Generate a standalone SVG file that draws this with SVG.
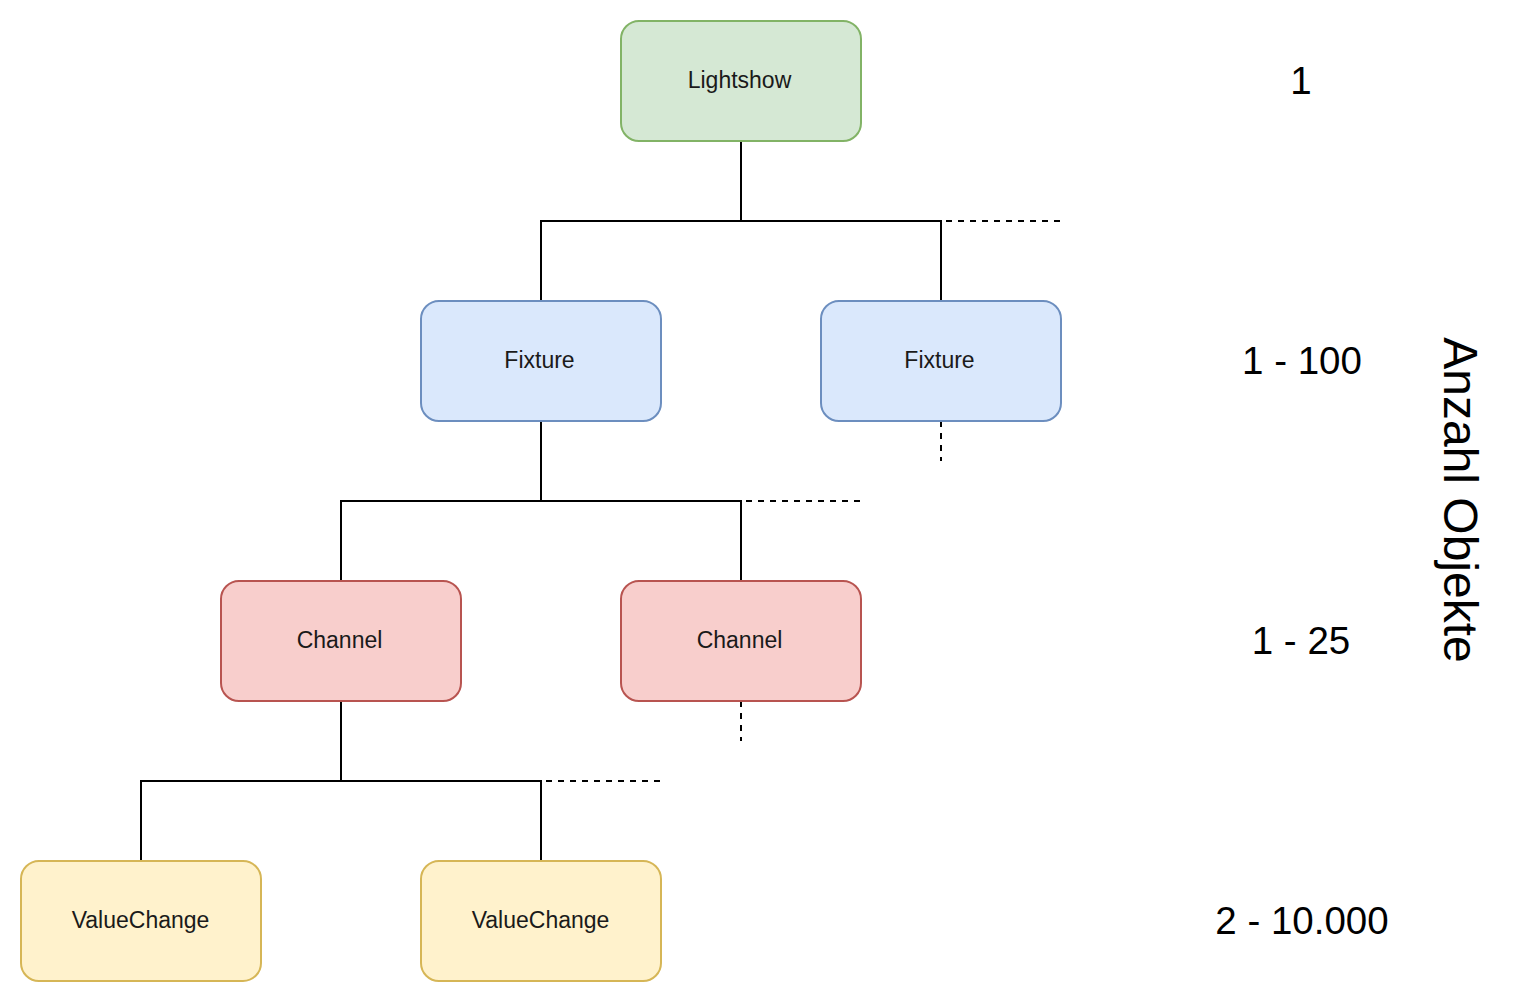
<svg xmlns="http://www.w3.org/2000/svg" width="1524" height="1002" viewBox="0 0 1524 1002">
<style>
.box{stroke-width:2}
.g{fill:#d5e8d4;stroke:#82b366}
.b{fill:#dae8fc;stroke:#6c8ebf}
.r{fill:#f8cecc;stroke:#b85450}
.y{fill:#fff2cc;stroke:#d6b656}
.lbl{font-family:"Liberation Sans",Arial,sans-serif;font-size:23px;fill:#1a1a1a;text-anchor:middle}
.num{font-family:"Liberation Sans",Arial,sans-serif;font-size:38.5px;fill:#000;text-anchor:middle}
.vert{font-family:"Liberation Sans",Arial,sans-serif;font-size:48px;fill:#000;text-anchor:middle}
.ln{fill:none;stroke:#000;stroke-width:2}
.dash{fill:none;stroke:#000;stroke-width:2;stroke-dasharray:6 6}
</style>
<rect width="1524" height="1002" fill="#fff"/>
<g id="connectors">
<path class="ln" d="M741 141V221M541 301V221H941V301"/>
<path class="dash" d="M946 221H1061M941 421V461"/>
<path class="ln" d="M541 421V501M341 581V501H741V581"/>
<path class="dash" d="M746 501H861M741 701V741"/>
<path class="ln" d="M341 701V781M141 861V781H541V861"/>
<path class="dash" d="M546 781H661"/>
</g>
<g id="lightshow"><rect class="box g" x="621" y="21" width="240" height="120" rx="18"/><text class="lbl" x="739.5" y="88">Lightshow</text></g>
<g id="fixture1"><rect class="box b" x="421" y="301" width="240" height="120" rx="18"/><text class="lbl" x="539.5" y="368">Fixture</text></g>
<g id="fixture2"><rect class="box b" x="821" y="301" width="240" height="120" rx="18"/><text class="lbl" x="939.5" y="368">Fixture</text></g>
<g id="channel1"><rect class="box r" x="221" y="581" width="240" height="120" rx="18"/><text class="lbl" x="339.5" y="648">Channel</text></g>
<g id="channel2"><rect class="box r" x="621" y="581" width="240" height="120" rx="18"/><text class="lbl" x="739.5" y="648">Channel</text></g>
<g id="valuechange1"><rect class="box y" x="21" y="861" width="240" height="120" rx="18"/><text class="lbl" x="140.5" y="928">ValueChange</text></g>
<g id="valuechange2"><rect class="box y" x="421" y="861" width="240" height="120" rx="18"/><text class="lbl" x="540.5" y="928">ValueChange</text></g>
<g id="counts">
<text class="num" x="1301" y="94">1</text>
<text class="num" x="1302" y="374">1 - 100</text>
<text class="num" x="1301" y="654">1 - 25</text>
<text class="num" x="1302" y="934">2 - 10.000</text>
<text class="vert" transform="translate(1444 500) rotate(90)" x="0" y="0">Anzahl Objekte</text>
</g>
</svg>
